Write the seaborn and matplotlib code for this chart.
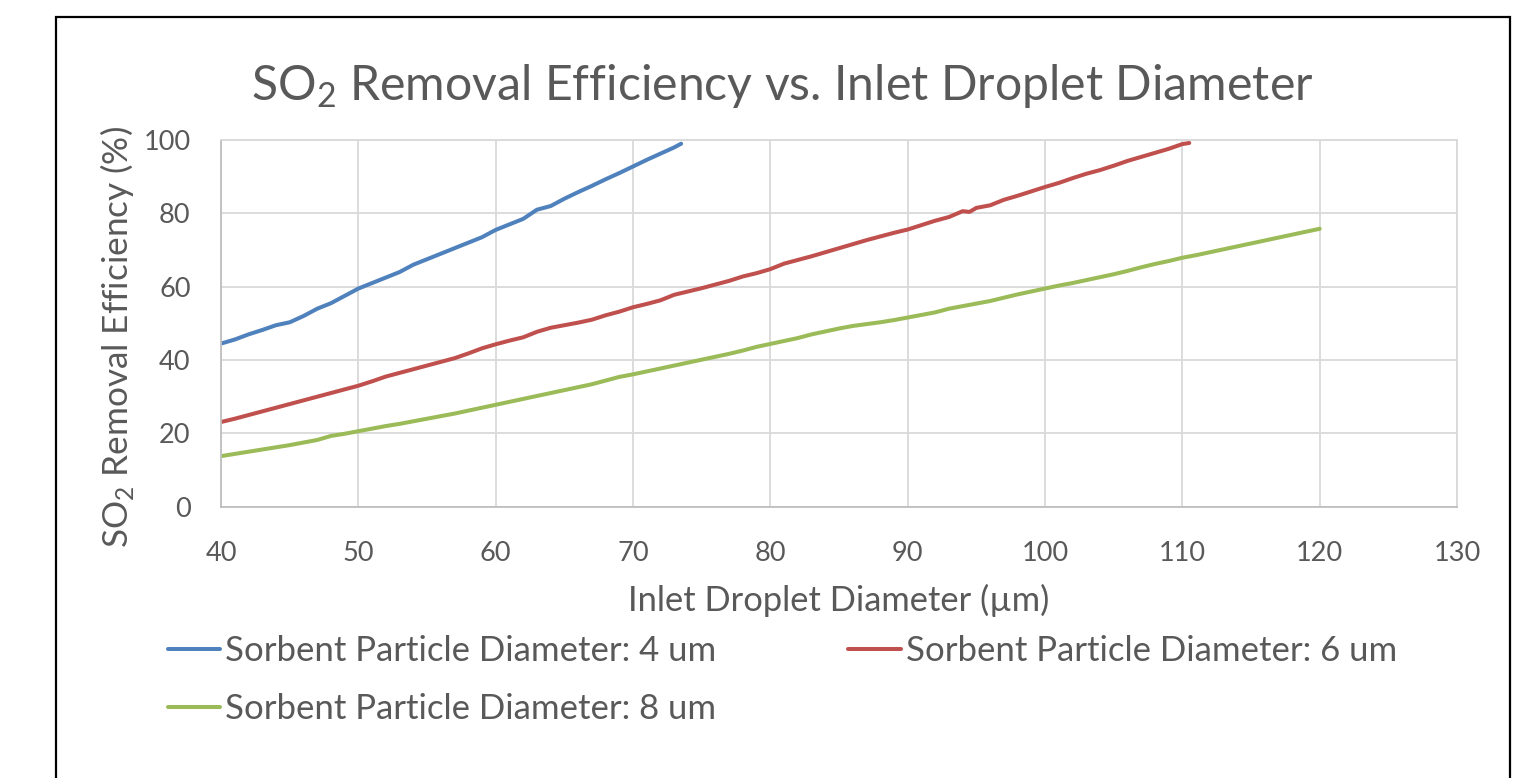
import numpy as np
import pandas as pd
import matplotlib
matplotlib.use("Agg")
import matplotlib.pyplot as plt
import seaborn as sns
from matplotlib.patches import Rectangle

# data
d_4um = [40, 41, 42, 43, 44, 45, 46, 47, 48, 49, 50, 51, 52, 53, 54, 55, 56, 57, 58, 59,
         60, 61, 62, 63, 64, 65, 66, 67, 68, 69, 70, 71, 72, 73, 73.5]
eff_4um = [44.5, 45.6, 47.0, 48.2, 49.5, 50.3, 52.0, 54.0, 55.5, 57.5, 59.5, 61.0, 62.5, 64.0,
           66.0, 67.5, 69.0, 70.5, 72.0, 73.5, 75.5, 77.0, 78.5, 81.0, 82.0, 84.0, 85.8, 87.5,
           89.3, 91.0, 92.8, 94.6, 96.3, 98.0, 99.0]

d_6um = [40, 41, 42, 43, 44, 45, 46, 47, 48, 49, 50, 51, 52, 53, 54, 55, 56, 57, 58, 59,
         60, 61, 62, 63, 64, 65, 66, 67, 68, 69, 70, 71, 72, 73, 74, 75, 76, 77, 78, 79,
         80, 81, 82, 83, 84, 85, 86, 87, 88, 89, 90, 91, 92, 93, 94, 94.5, 95, 96, 97, 98,
         99, 100, 101, 102, 103, 104, 105, 106, 107, 108, 109, 110, 110.5]
eff_6um = [23.1, 24.0, 25.0, 26.0, 27.0, 28.0, 29.0, 30.0, 31.0, 32.0, 33.0, 34.2, 35.5, 36.5,
           37.5, 38.5, 39.5, 40.5, 41.8, 43.2, 44.3, 45.3, 46.2, 47.7, 48.8, 49.5, 50.2, 51.0,
           52.2, 53.2, 54.4, 55.3, 56.3, 57.8, 58.7, 59.6, 60.6, 61.6, 62.8, 63.7, 64.8, 66.3,
           67.3, 68.3, 69.4, 70.5, 71.6, 72.7, 73.7, 74.7, 75.6, 76.8, 78.0, 79.0, 80.6, 80.4,
           81.5, 82.2, 83.7, 84.8, 86.0, 87.2, 88.3, 89.6, 90.8, 91.8, 93.0, 94.3, 95.4, 96.5,
           97.6, 98.9, 99.2]

d_8um = list(range(40, 121))
eff_8um = [13.8, 14.4, 15.0, 15.6, 16.2, 16.8, 17.5, 18.2, 19.3, 19.9, 20.6, 21.3, 22.0, 22.6,
           23.3, 24.0, 24.7, 25.4, 26.2, 27.0, 27.8, 28.6, 29.4, 30.2, 31.0, 31.8, 32.6, 33.4,
           34.4, 35.4, 36.1, 36.9, 37.7, 38.5, 39.3, 40.1, 40.9, 41.7, 42.6, 43.6, 44.4, 45.2,
           46.0, 47.0, 47.8, 48.6, 49.3, 49.8, 50.3, 50.9, 51.6, 52.3, 53.0, 54.0, 54.7, 55.4,
           56.1, 57.0, 57.9, 58.7, 59.5, 60.3, 61.0, 61.8, 62.6, 63.4, 64.3, 65.3, 66.2, 67.0,
           67.9, 68.6, 69.4, 70.2, 71.0, 71.8, 72.6, 73.4, 74.2, 75.0, 75.8]

series_names = ["Sorbent Particle Diameter: 4 um",
                "Sorbent Particle Diameter: 6 um",
                "Sorbent Particle Diameter: 8 um"]
colors = ["#4F81BD", "#C0504D", "#9BBB59"]

df = pd.concat([
    pd.DataFrame({"d": d_4um, "eff": eff_4um, "series": series_names[0]}),
    pd.DataFrame({"d": d_6um, "eff": eff_6um, "series": series_names[1]}),
    pd.DataFrame({"d": d_8um, "eff": eff_8um, "series": series_names[2]}),
])

sns.set_theme(style="white")
plt.rcParams['font.family'] = ['Lato', 'DejaVu Sans']
plt.rcParams['mathtext.fontset'] = 'custom'
plt.rcParams['mathtext.rm'] = 'Lato'
txt = "#595959"

fig = plt.figure(figsize=(15.31, 7.78), dpi=100)
ax = fig.add_axes([0.1444, 0.3487, 0.8073, 0.4713])

sns.lineplot(data=df, x="d", y="eff", hue="series", palette=colors, linewidth=2.9,
             ax=ax, sort=False, estimator=None)

ax.set_xlim(40, 130)
ax.set_ylim(0, 100)
ax.set_xticks(np.arange(40, 131, 10))
ax.set_yticks(np.arange(0, 101, 20))
ax.grid(True, color="#D9D9D9", linewidth=1.3)
ax.set_axisbelow(True)
for s in ax.spines.values():
    s.set_color("#D9D9D9")
    s.set_linewidth(1.3)
ax.spines["left"].set_color("#BFBFBF")
ax.spines["bottom"].set_color("#BFBFBF")
ax.tick_params(axis="both", length=0, labelsize=19.5, labelcolor=txt)
ax.tick_params(axis="x", pad=25)
ax.tick_params(axis="y", pad=22)
ax.set_xlabel("")
ax.set_ylabel("")

fig.text(0.511, 0.8715, r"SO$_\mathregular{2}$ Removal Efficiency vs. Inlet Droplet Diameter",
         ha="center", va="baseline", fontsize=34.7, color=txt)
fig.text(0.548, 1 - 600 / 778, "Inlet Droplet Diameter (µm)", ha="center", va="center",
         fontsize=24.8, color=txt)
fig.text(117 / 1531, 1 - 337 / 778, r"SO$_\mathregular{2}$ Removal Efficiency (%)",
         ha="center", va="center", rotation=90, fontsize=25.3, color=txt)

handles, labels = ax.get_legend_handles_labels()
ax.get_legend().remove()
order = [0, 2, 1]
fig.legend([handles[i] for i in order], [labels[i] for i in order],
           loc="center left", bbox_to_anchor=(168 / 1531, 1 - 680 / 778),
           ncol=2, frameon=False, fontsize=25, labelcolor=txt,
           handlelength=1.5, handletextpad=0.15, columnspacing=3.8,
           labelspacing=0.76, borderpad=0, borderaxespad=0)

fig.add_artist(Rectangle((56 / 1531, -0.05), (1510 - 56) / 1531, 1 - 17 / 778 + 0.05,
                         transform=fig.transFigure, fill=False, edgecolor="black",
                         linewidth=1.6))

fig.savefig("out.png", dpi=100)
